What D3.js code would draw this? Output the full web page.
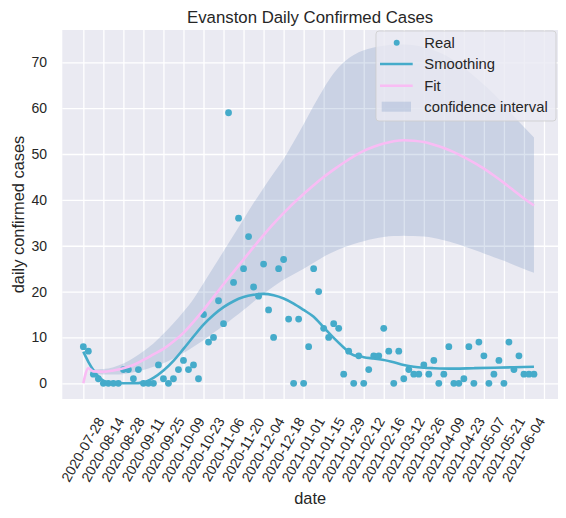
<!DOCTYPE html>
<html>
<head>
<meta charset="utf-8">
<script src="https://cdnjs.cloudflare.com/ajax/libs/d3/7.8.5/d3.min.js"></script>
<style>
  body { margin: 0; background: #fff; }
  text { font-family: "Liberation Sans", Arial, sans-serif; fill: #262626; }
</style>
</head>
<body>
<svg id="chart" width="566" height="518"></svg>
<script>
// one tick label every 4 observations
var tickLabels = ["2020-07-28", "2020-08-14", "2020-08-28", "2020-09-11", "2020-09-25", "2020-10-09",
  "2020-10-23", "2020-11-06", "2020-11-20", "2020-12-04", "2020-12-18", "2021-01-01", "2021-01-15",
  "2021-01-29", "2021-02-12", "2021-02-16", "2021-03-12", "2021-03-26", "2021-04-09", "2021-04-23",
  "2021-05-07", "2021-05-21", "2021-06-04"];

// daily confirmed cases, one per observation (index 0..90)
var real = [8, 7, 2, 1, 0, 0, 0, 0, 3, 3, 1, 3, 0, 0, 0, 4, 1, 0, 1, 3,
  5, 3, 4, 1, 15, 9, 10, 18, 13, 59, 22, 36, 25, 32, 21, 19, 26, 16, 10, 25,
  27, 14, 0, 14, 0, 8, 25, 20, 12, 10, 13, 12, 2, 7, 0, 6, 0, 3, 6, 6,
  12, 7, 0, 7, 1, 3, 2, 2, 4, 2, 5, 0, 2, 8, 0, 0, 1, 8, 0, 9,
  6, 0, 2, 5, 0, 9, 3, 6, 2, 2, 2];

// smoothing curve, sampled at these observation indices
var smoothX = [0, 1, 2, 3, 4, 5, 6, 8, 10, 12, 14, 16, 18, 20, 22, 24, 26, 28, 30, 32, 34, 36, 38, 40,
  42, 44, 46, 48, 50, 52, 53, 54, 55, 56, 58, 60, 62, 64, 66, 68, 70, 74, 78, 82, 86, 90];
var smooth = [6.9, 4.7, 2.9, 1.5, 0.6, 0.2, 0.1, 0.0, 0.0, 0.2, 1.2, 2.8, 4.9, 7.5, 10.2, 12.8, 14.9, 16.6,
  17.9, 18.8, 19.3, 19.5, 19.2, 18.5, 17.4, 16.0, 14.5, 12.2, 9.9, 7.8, 6.8, 6.1, 5.9, 5.7, 5.4, 5.1,
  4.6, 4.0, 3.6, 3.4, 3.3, 3.2, 3.3, 3.4, 3.5, 3.6];

// fitted curve and its confidence interval
var fitX = [0, 1, 2, 4, 6, 8, 10, 12, 14, 16, 18, 20, 22, 24, 26, 28, 30, 32, 34, 36, 38, 40, 42, 44,
  46, 48, 50, 52, 54, 56, 58, 60, 62, 64, 66, 68, 70, 72, 74, 76, 78, 80, 82, 84, 86, 88, 90];
var fit = [0, 3.3, 2.6, 2.5, 2.8, 3.3, 4.0, 5.1, 6.3, 7.5, 9.1, 11.0, 13.4, 16.0, 18.8, 21.6, 24.3, 27.0,
  29.7, 32.3, 34.8, 37.1, 39.3, 41.3, 43.2, 45.0, 46.6, 48.1, 49.5, 50.7, 51.6, 52.3, 52.8, 53.0, 52.9,
  52.6, 52.0, 51.3, 50.4, 49.3, 48.1, 46.8, 45.3, 43.7, 42.0, 40.3, 38.8];
var bandX = fitX.slice(1);
var bandLow = [3.3, 2.2, 1.9, 1.9, 2.0, 2.4, 2.9, 3.6, 4.4, 5.4, 6.6, 8.0, 9.4, 11.0, 12.6, 14.3, 16.0,
  17.8, 19.5, 21.1, 22.6, 23.8, 25.0, 26.3, 27.6, 28.7, 29.6, 30.4, 31.0, 31.5, 31.9, 32.1, 32.2, 32.1,
  32.0, 31.7, 31.2, 30.6, 29.9, 29.1, 28.3, 27.5, 26.7, 25.8, 24.9, 24.1];
var bandHigh = [3.3, 3.0, 3.1, 3.5, 4.3, 5.5, 7.0, 8.7, 10.8, 13.1, 15.6, 18.4, 21.8, 25.3, 28.8, 32.3,
  35.8, 39.3, 42.6, 45.8, 48.9, 52.6, 56.5, 60.5, 64.3, 67.6, 70.0, 71.6, 72.6, 73.2, 73.6, 73.9, 73.9,
  73.7, 73.3, 72.6, 71.7, 70.4, 68.8, 67.0, 65.1, 63.1, 60.7, 58.2, 55.9, 53.6];

var yTicks = [0, 10, 20, 30, 40, 50, 60, 70];

var teal = "#45abca", pink = "#f9bcf4", bandColor = "#4c72b0";
// note: "top" is taken by window.top, so use plot* names
var plotL = 62.3, plotR = 558, plotT = 30, plotB = 399;

var svg = d3.select("#chart");
var x = d3.scaleLinear().domain([-4.2, 94.8]).range([plotL, plotR]);
var y = d3.scaleLinear().domain([-3.42, 77.04]).range([plotB, plotT]);

svg.append("rect")
  .attr("x", plotL).attr("y", plotT)
  .attr("width", plotR - plotL).attr("height", plotB - plotT)
  .attr("fill", "#eaeaf2");

// white grid, seaborn darkgrid style
var gx = svg.append("g")
  .attr("transform", "translate(0," + plotB + ")")
  .call(d3.axisBottom(x).tickValues(d3.range(0, 93, 4)).tickSize(-(plotB - plotT)).tickFormat(""));
var gy = svg.append("g")
  .attr("transform", "translate(" + plotL + ",0)")
  .call(d3.axisLeft(y).tickValues(yTicks).tickSize(-(plotR - plotL)).tickFormat(""));
[gx, gy].forEach(function (g) {
  g.select(".domain").remove();
  g.selectAll("line").attr("stroke", "#fff").attr("stroke-width", 1.3);
});

// tick labels
var xl = svg.append("g")
  .attr("transform", "translate(0," + plotB + ")")
  .call(d3.axisBottom(x).tickValues(d3.range(0, 89, 4)).tickSize(0)
    .tickFormat(function (d) { return tickLabels[d / 4]; }));
xl.select(".domain").remove();
xl.selectAll("text")
  .attr("y", 0).attr("dy", "0.35em")
  .attr("text-anchor", "middle")
  .attr("transform", "translate(-1,50.5) rotate(-60)")
  .style("font-size", "14px");

var yl = svg.append("g")
  .attr("transform", "translate(" + plotL + ",0)")
  .call(d3.axisLeft(y).tickValues(yTicks).tickSize(0).tickPadding(15.3));
yl.select(".domain").remove();
yl.selectAll("text").style("font-size", "14px");
[xl, yl].forEach(function (g) { g.attr("font-family", null).attr("font-size", null); });

// confidence interval
svg.append("path")
  .datum(d3.range(bandX.length))
  .attr("d", d3.area()
    .x(function (i) { return x(bandX[i]); })
    .y0(function (i) { return y(bandLow[i]); })
    .y1(function (i) { return y(bandHigh[i]); })
    .curve(d3.curveMonotoneX))
  .attr("fill", bandColor).attr("fill-opacity", 0.2);

svg.append("g").selectAll("circle")
  .data(real)
  .join("circle")
  .attr("cx", function (d, i) { return x(i); })
  .attr("cy", function (d) { return y(d); })
  .attr("r", 3.4)
  .attr("fill", teal);

var line = function (xs, ys) {
  return d3.line()
    .x(function (i) { return x(xs[i]); })
    .y(function (i) { return y(ys[i]); })
    .curve(d3.curveMonotoneX)(d3.range(xs.length));
};
svg.append("path").attr("d", line(smoothX, smooth))
  .attr("fill", "none").attr("stroke", teal).attr("stroke-width", 2.6);
svg.append("path").attr("d", line(fitX, fit))
  .attr("fill", "none").attr("stroke", pink).attr("stroke-width", 2.6);

// titles
svg.append("text").attr("x", (plotL + plotR) / 2).attr("y", 22.5)
  .attr("text-anchor", "middle").style("font-size", "16.8px")
  .text("Evanston Daily Confirmed Cases");
svg.append("text").attr("x", (plotL + plotR) / 2).attr("y", 504)
  .attr("text-anchor", "middle").style("font-size", "16.4px")
  .text("date");
svg.append("text")
  .attr("transform", "translate(24," + (plotT + plotB) / 2 + ") rotate(-90)")
  .attr("text-anchor", "middle").style("font-size", "16.4px")
  .text("daily confirmed cases");

// legend
var lg = svg.append("g");
lg.append("rect")
  .attr("x", 376).attr("y", 31).attr("width", 180).attr("height", 90).attr("rx", 3)
  .attr("fill", "#eaeaf2").attr("fill-opacity", 0.8)
  .attr("stroke", "#cccccc").attr("stroke-opacity", 0.8);
var rows = ["Real", "Smoothing", "Fit", "confidence interval"];
var rowY = [42.7, 64, 85.7, 106.7];
lg.append("circle").attr("cx", 396.7).attr("cy", rowY[0]).attr("r", 3).attr("fill", teal);
lg.append("line").attr("x1", 380).attr("x2", 412.7).attr("y1", rowY[1]).attr("y2", rowY[1])
  .attr("stroke", teal).attr("stroke-width", 2.6);
lg.append("line").attr("x1", 380).attr("x2", 412.7).attr("y1", rowY[2]).attr("y2", rowY[2])
  .attr("stroke", pink).attr("stroke-width", 2.6);
lg.append("rect").attr("x", 381.7).attr("y", rowY[3] - 5).attr("width", 29.3).attr("height", 10)
  .attr("fill", bandColor).attr("fill-opacity", 0.2);
lg.selectAll("text.lab")
  .data(rows)
  .join("text")
  .attr("class", "lab")
  .attr("x", 424.3)
  .attr("y", function (d, i) { return rowY[i]; })
  .attr("dy", "0.35em")
  .style("font-size", "14.8px")
  .text(function (d) { return d; });
</script>
</body>
</html>
